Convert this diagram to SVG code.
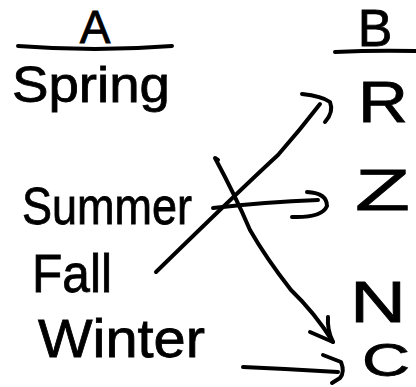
<svg xmlns="http://www.w3.org/2000/svg" width="416" height="387" viewBox="0 0 416 387">
<defs>
<style>
.lbl{font-family:"Liberation Sans","DejaVu Sans",sans-serif;fill:#000;stroke:#000;stroke-width:0.8;font-weight:normal}
.ln{fill:none;stroke:#000;stroke-width:4;stroke-linecap:round;stroke-linejoin:round}
</style>
</defs>
<rect width="416" height="387" fill="#fff"/>
<g id="header-A">
<text class="lbl" x="95" y="43" font-size="46" text-anchor="middle">A</text>
<path class="ln" d="M18,46 Q95,52 172,46" stroke-width="3"/>
</g>
<g id="header-B">
<text class="lbl" x="375" y="46" font-size="52" text-anchor="middle">B</text>
<path class="ln" d="M335,52 Q375,50 416,51" stroke-width="3.5"/>
</g>
<g id="spring"><text class="lbl" x="12" y="102" font-size="50" textLength="158" lengthAdjust="spacingAndGlyphs">Spring</text></g>
<g id="summer"><text class="lbl" x="22" y="224" font-size="52" textLength="170" lengthAdjust="spacingAndGlyphs">Summer</text></g>
<g id="fall"><text class="lbl" x="32" y="292" font-size="54" textLength="80" lengthAdjust="spacingAndGlyphs">Fall</text></g>
<g id="winter"><text class="lbl" x="38" y="357" font-size="54" textLength="167" lengthAdjust="spacingAndGlyphs">Winter</text></g>
<g id="R"><text class="lbl" x="358" y="122" font-size="58" textLength="50" lengthAdjust="spacingAndGlyphs">R</text></g>
<g id="Z"><text class="lbl" x="355" y="210" font-size="58" textLength="55" lengthAdjust="spacingAndGlyphs">Z</text></g>
<g id="N"><text class="lbl" x="350" y="322" font-size="58" textLength="56" lengthAdjust="spacingAndGlyphs">N</text></g>
<g id="C"><text class="lbl" x="362" y="376" font-size="46" textLength="48" lengthAdjust="spacingAndGlyphs">C</text></g>
<g id="connectors">
<path class="ln" d="M156,272 Q240,190 278,155 Q300,130 320,104"/>
<path class="ln" d="M302,94 Q322,96 330,102 Q334,112 325,122"/>
<path class="ln" d="M213,208 Q265,202 318,200"/>
<path class="ln" d="M307,192 Q327,193 327,206 Q322,218 292,217"/>
<path class="ln" d="M218,160 L215,158 Q235,195 250,230 Q266,258 291,290 Q315,313 333,342" stroke-width="3.5"/>
<path class="ln" d="M310,332 L333,342 Q327,330 328,317"/>
<path class="ln" d="M243,367 Q290,369 338,372"/>
<path class="ln" d="M323,355 L341,362 Q345,372 340,378 L332,383"/>
</g>
</svg>
